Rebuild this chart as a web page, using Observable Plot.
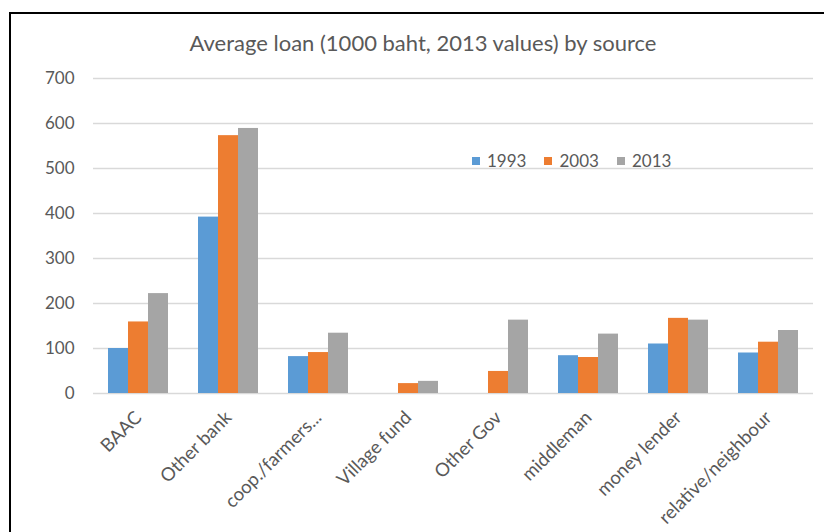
<!DOCTYPE html>
<html>
<head>
<meta charset="utf-8">
<script src="https://cdn.jsdelivr.net/npm/d3@7"></script>
<script src="https://cdn.jsdelivr.net/npm/@observablehq/plot@0.6"></script>
<style>
  html, body { margin: 0; padding: 0; background: #fff; }
  #wrap { position: relative; width: 824px; height: 532px; overflow: hidden; font-family: Lato, "Open Sans", sans-serif; color: #595959; }
  #frame { position: absolute; left: 9px; top: 12px; width: 830px; height: 540px; border-left: 2px solid #000; border-top: 2px solid #000; box-sizing: border-box; }
  #title { position: absolute; left: 0; width: 846px; top: 29px; text-align: center; font-size: 22px; white-space: nowrap; }
  #legend { position: absolute; left: 472px; top: 150px; font-size: 17px; display: flex; align-items: center; white-space: nowrap; }
  #legend span.sw { display: inline-block; width: 8px; height: 8px; margin-right: 7px; }
  #legend span.item { display: inline-flex; align-items: center; margin-right: 18px; }
  #chart { position: absolute; left: 0; top: 0; }
  #chart [aria-label^="fx-axis"] text { font-size: 18.5px; }
</style>
</head>
<body>
<div id="wrap">
  <div id="frame"></div>
  <div id="chart"></div>
  <div id="title"></div>
  <div id="legend"></div>
</div>
<script>
const title = "Average loan (1000 baht, 2013 values) by source";
const sources = ["BAAC", "Other bank", "coop./farmers...", "Village fund", "Other Gov", "middleman", "money lender", "relative/neighbour"];
const years = ["1993", "2003", "2013"];
const v1993 = [100, 392, 82, null, null, 84, 110, 90];
const v2003 = [159, 573, 91, 22, 49, 80, 167, 114];
const v2013 = [222, 589, 134, 27, 163, 132, 163, 140];
const colors = ["#5B9BD5", "#ED7D31", "#A5A5A5"];
const yTicks = [0, 100, 200, 300, 400, 500, 600, 700];

const series = [v1993, v2003, v2013];
const data = [];
sources.forEach((s, i) => {
  years.forEach((y, j) => {
    const v = series[j][i];
    if (v != null) data.push({source: s, year: y, value: v});
  });
});

document.getElementById("title").textContent = title;
const leg = document.getElementById("legend");
years.forEach((y, j) => {
  const item = document.createElement("span");
  item.className = "item";
  const sw = document.createElement("span");
  sw.className = "sw";
  sw.style.background = colors[j];
  item.appendChild(sw);
  item.appendChild(document.createTextNode(y));
  leg.appendChild(item);
});

const chart = Plot.plot({
  width: 824,
  height: 532,
  marginLeft: 92,
  marginRight: 10,
  marginTop: 78,
  marginBottom: 139,
  style: {fontFamily: "Lato, 'Open Sans', sans-serif", fontSize: "17px", color: "#595959", background: "transparent", overflow: "visible"},
  fx: {domain: sources, padding: 0, label: null, tickSize: 0, tickPadding: 21, tickRotate: -45},
  x: {domain: years, paddingInner: 0, paddingOuter: 0.74, axis: null},
  y: {domain: [0, 700], ticks: yTicks, tickSize: 0, tickPadding: 19, label: null, tickFormat: d => String(d)},
  color: {domain: years, range: colors},
  marks: [
    Plot.ruleY(yTicks, {stroke: "#d9d9d9", strokeWidth: 1.3}),
    Plot.barY(data, {fx: "source", x: "year", y: "value", fill: "year", inset: 0})
  ]
});
document.getElementById("chart").appendChild(chart);
</script>
</body>
</html>
